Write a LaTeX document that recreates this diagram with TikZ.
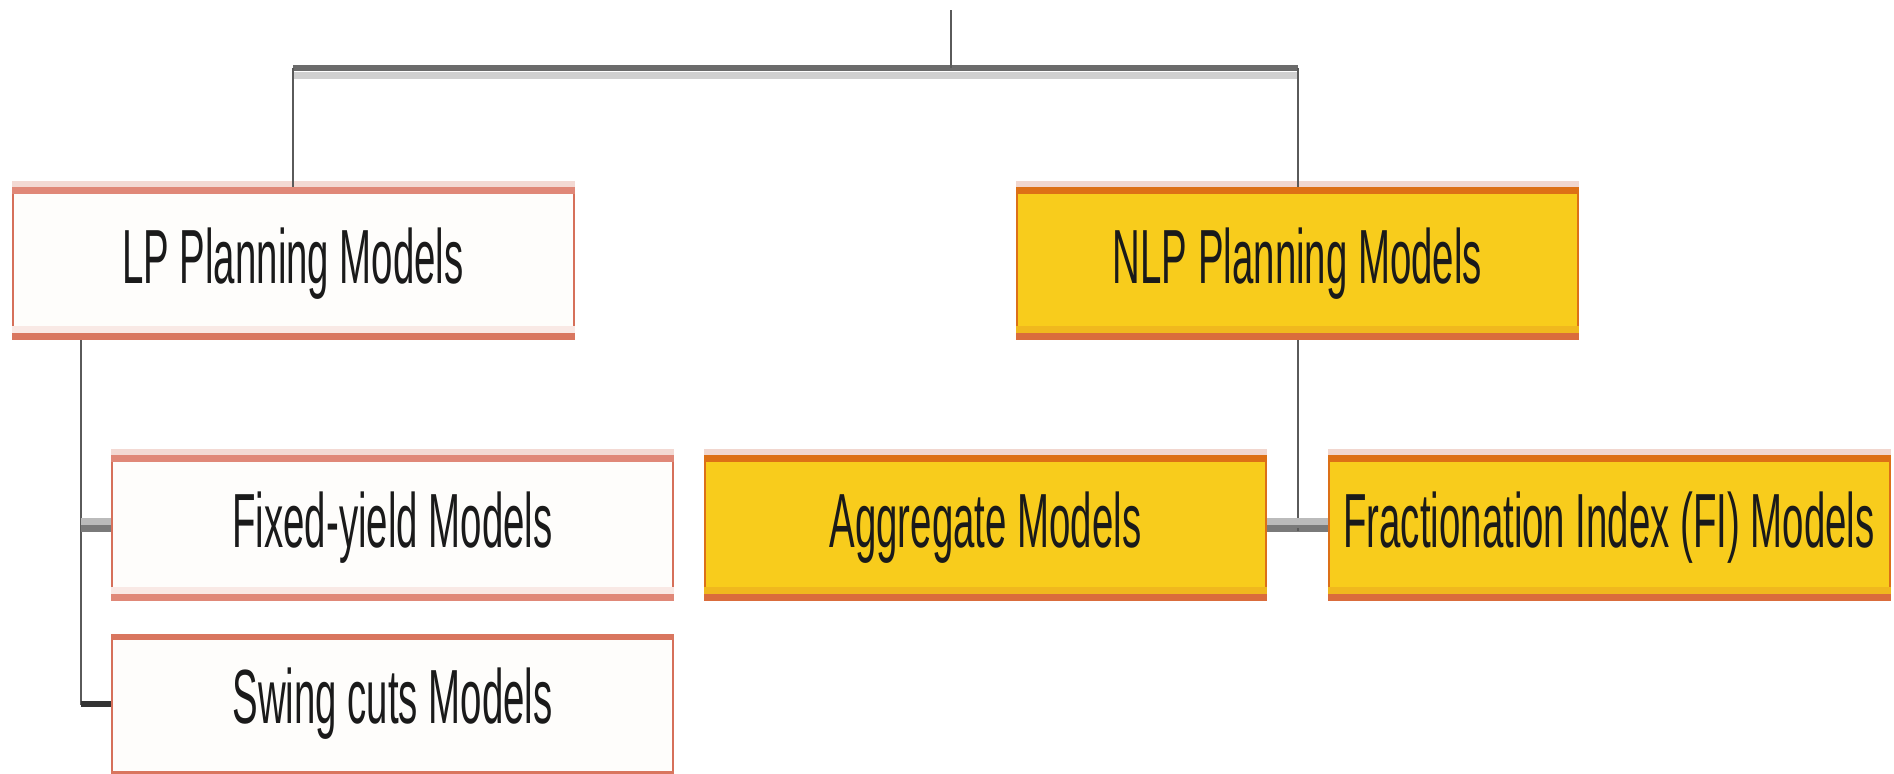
\documentclass[tikz,border=0pt]{standalone}
\usepackage{fontspec}
\usepackage{graphicx}
\setmainfont{Liberation Sans}
\usetikzlibrary{calc}
\definecolor{lpfill}{HTML}{FEFDFB}
\definecolor{lpside}{HTML}{D6705A}
\definecolor{lptop}{HTML}{E08878}
\definecolor{lptoplight}{HTML}{F3D9D3}
\definecolor{lpbot}{HTML}{D9765F}
\definecolor{lpbotlight}{HTML}{F9E9E5}
\definecolor{nlpfill}{HTML}{F8CC1C}
\definecolor{nlpside}{HTML}{DC7018}
\definecolor{nlptop}{HTML}{DD7016}
\definecolor{nlptoplight}{HTML}{F1D6CE}
\definecolor{nlpbot}{HTML}{DA6C3C}
\definecolor{nlpbotlight}{HTML}{F0B81E}
\definecolor{connc}{HTML}{5A5A5A}
\definecolor{barc}{HTML}{6B6B6B}
\definecolor{shadowc}{HTML}{D0D0D0}
\definecolor{brlight}{HTML}{BBBBBB}
\definecolor{brdark}{HTML}{7A7A7A}
\definecolor{txt}{HTML}{1A1A1A}
\newcommand\cond[1]{\scalebox{0.5}[1]{#1}}
\begin{document}
\begin{tikzpicture}[x=0.5pt,y=-0.5pt,
  box/.style={rectangle, inner sep=0pt, minimum width=280.5pt, line width=1pt,
    font=\fontsize{38.4}{46}\selectfont, text=txt},
  lpbox/.style={box, fill=lpfill, draw=lpside},
  nlpbox/.style={box, fill=nlpfill, draw=nlpside},
  conn/.style={line width=1pt, draw=connc},
]
\fill[white] (0,0) rectangle (1894,773);
\useasboundingbox (0,0) rectangle (1894,773);

% nodes
\node[lpbox, minimum height=75.5pt] (lp) at (293,263.5) {\cond{LP Planning Models}};
\node[nlpbox, minimum height=75.5pt] (nlp) at (1297.5,263.5) {\cond{NLP Planning Models}};
\node[lpbox, minimum height=72pt] (fy) at (392.5,528) {\cond{Fixed-yield Models}};
\node[nlpbox, minimum height=72pt] (agg) at (985.5,528) {\cond{Aggregate Models}};
\node[nlpbox, minimum height=72pt] (fi) at (1609,528) {\cond{Fractionation Index (FI) Models}};
\node[lpbox, minimum height=69pt] (sw) at (392.5,704) {\cond{Swing cuts Models}};

% box stripes
\foreach \n/\tl/\td/\bl/\bd in {lp/lptoplight/lptop/lpbotlight/lpbot,
    fy/lptoplight/lptop/lpbotlight/lptop,
    nlp/nlptoplight/nlptop/nlpbotlight/nlpbot,
    agg/nlptoplight/nlptop/nlpbotlight/nlpbot,
    fi/nlptoplight/nlptop/nlpbotlight/nlpbot}{
  \fill[\tl] ($(\n.north west)+(0,-6)$) rectangle (\n.north east);
  \fill[\td] (\n.north west) rectangle ($(\n.north east)+(0,7)$);
  \fill[\bl] ($(\n.south west)+(0,-14)$) rectangle ($(\n.south east)+(0,-7)$);
  \fill[\bd] ($(\n.south west)+(0,-7)$) rectangle (\n.south east);
}
\fill[lpbot] (sw.north west) rectangle ($(sw.north east)+(0,6)$);
\fill[lpbot] ($(sw.south west)+(0,-3)$) rectangle (sw.south east);

% connectors
\coordinate (top) at (951,10);
\coordinate (bar) at (951,68);
\draw[line width=3.5pt, shadowc] ($(lp.north |- bar)+(0,7)$) -- ($(nlp.north |- bar)+(0,7)$);
\draw[line width=3pt, barc] (lp.north |- bar) -- (nlp.north |- bar);
\draw[conn] (top) -- (bar);
\draw[conn] (lp.north |- bar) -- (lp.north);
\draw[conn] (nlp.north |- bar) -- (nlp.north);

\coordinate (lpl) at ($(lp.south west)+(69,0)$);
\draw[conn] (lpl) |- (sw.west);
\draw[line width=3pt, draw=black!80] ($(lpl |- sw.west)$) -- (sw.west);
\draw[line width=3.5pt, brlight] ($(lpl |- fy.west)+(0,-7)$) -- ($(fy.west)+(0,-7)$);
\draw[line width=3.5pt, brdark] (lpl |- fy.west) -- (fy.west);

\draw[conn] (nlp.south) -- (nlp.south |- agg.east);
\draw[line width=3.5pt, brlight] ($(agg.east)+(0,-7)$) -- ($(fi.west)+(0,-7)$);
\draw[line width=3.5pt, brdark] (agg.east) -- (fi.west);
\draw[conn] (nlp.south |- agg.east) -- ($(nlp.south |- agg.east)+(0,3)$);
\end{tikzpicture}
\end{document}
